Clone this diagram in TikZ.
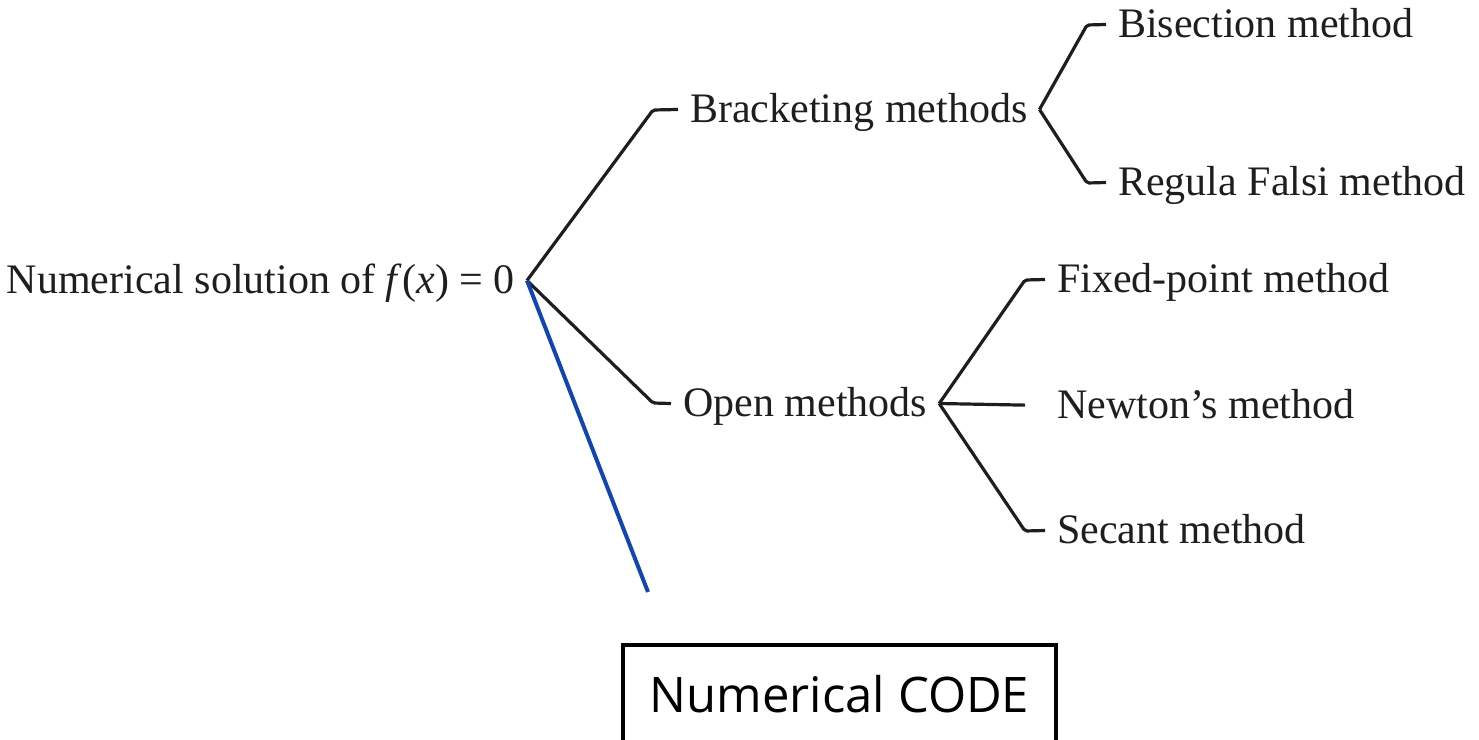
\documentclass[tikz,border=0pt]{standalone}
\usepackage{fontspec}
\setmainfont{Liberation Serif}
\newfontfamily\codefont{Open Sans}
\usetikzlibrary{calc}
\definecolor{inkgray}{RGB}{30,30,30}
\definecolor{codeblue}{RGB}{15,70,180}

\begin{document}
\begin{tikzpicture}[x=1pt,y=-1pt,
  meth/.style={font=\fontsize{42}{50}\selectfont, text=inkgray, text height=31pt, text depth=6pt, inner xsep=12pt, inner ysep=0pt},
  branch/.style={draw=inkgray, line width=3.2pt, rounded corners=2pt}]
  \useasboundingbox (0,0) rectangle (1479,739);
  % root and first level
  \node[meth, anchor=base east] (root) at (527,293) {Numerical solution of \textit{f}(\textit{x}) = 0};
  \node[meth, anchor=base west] (brk) at (678,122) {Bracketing methods};
  \node[meth, anchor=base west] (opn) at (671,416) {Open methods};
  % second level
  \node[meth, anchor=base west] (bis) at (1106,37) {Bisection method};
  \node[meth, anchor=base west] (reg) at (1106,195) {Regula Falsi method};
  \node[meth, anchor=base west] (fix) at (1045,292) {Fixed-point method};
  \node[meth, anchor=base west] (new) at (1045,418) {Newton's method};
  \node[meth, anchor=base west] (sec) at (1045,543) {Secant method};
  % code box
  \node[draw=black, line width=3.5pt, minimum width=433pt, minimum height=98pt,
        font=\codefont\fontsize{49}{59}\selectfont] (code) at (839.5,694) {Numerical CODE};
  % corners
  \coordinate (c-brk) at (653,110);
  \coordinate (c-opn) at (653,403);
  \coordinate (c-bis) at (1087,25);
  \coordinate (c-reg) at (1087,183);
  \coordinate (c-fix) at (1025,280);
  \coordinate (c-sec) at (1025,531);
  \coordinate (tip) at (648,592);
  \draw[branch] (root.east) -- (c-brk) -- (brk.west);
  \draw[branch] (root.east) -- (c-opn) -- (opn.west);
  \draw[branch] (brk.east) -- (c-bis) -- (bis.west);
  \draw[branch] (brk.east) -- (c-reg) -- (reg.west);
  \draw[branch] (opn.east) -- (c-fix) -- (fix.west);
  \draw[branch, shorten >=20pt] (opn.east) -- (new.west);
  \draw[branch] (opn.east) -- (c-sec) -- (sec.west);
  \draw[codeblue, line width=4pt] (root.east) -- (tip);
\end{tikzpicture}
\end{document}
